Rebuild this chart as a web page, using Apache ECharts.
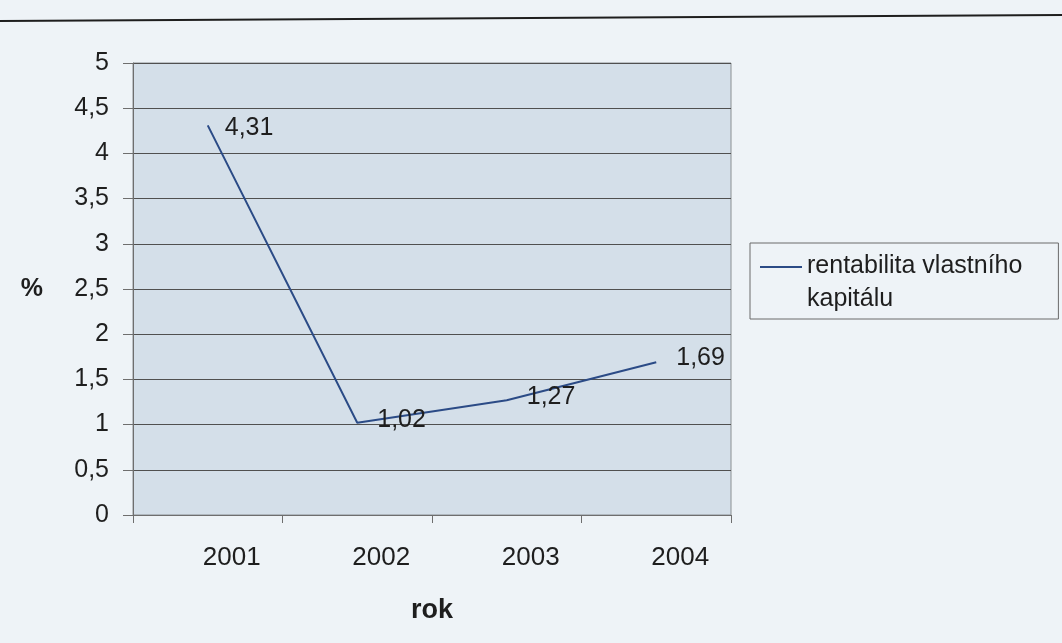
<!DOCTYPE html>
<html>
<head>
<meta charset="utf-8">
<script src="https://cdn.jsdelivr.net/npm/echarts@6/dist/echarts.min.js"></script>
<style>
    html, body { margin: 0; padding: 0; background: #eef3f7; }
    #chart { width: 1062px; height: 643px; }
</style>
</head>
<body>
<div id="chart"></div>
<script>
// data
const years = ['2001', '2002', '2003', '2004']
const roe = [4.31, 1.02, 1.27, 1.69]
const seriesName = 'rentabilita vlastního\nkapitálu'

const comma = v => String(v).replace('.', ',')

// label nudges per point (label sits right of the point)
const labelNudge = [[-3, 3], [0, -3], [0, -3], [0, -4]]

const chart = echarts.init(document.getElementById('chart'))

const option = {
    backgroundColor: '#eef3f7',
    textStyle: { fontFamily: '"Liberation Sans", Arial, sans-serif', color: '#222' },
    grid: {
        left: 133, right: 331, top: 63, bottom: 128,
        show: true,
        backgroundColor: '#d4dfe9',
        borderColor: '#8a8f92',
        borderWidth: 1
    },
    legend: {
        show: true,
        data: [seriesName],
        orient: 'vertical',
        left: 750,
        top: 243,
        padding: [7, 36, 3, 10],
        backgroundColor: 'transparent',
        borderColor: '#6a6a6a',
        borderWidth: 1,
        itemWidth: 42,
        itemHeight: 34,
        // line drawn at the top of the icon box so it sits beside the first text line
        icon: 'path://M0,0L42,0L42,2L0,2Z M0,34L0.01,34L0.01,34.01Z',
        textStyle: { fontSize: 25, lineHeight: 33, color: '#1e1e1e' }
    },
    xAxis: {
        type: 'category',
        data: years,
        boundaryGap: true,
        name: 'rok',
        nameLocation: 'middle',
        nameGap: 82,
        nameTextStyle: { fontSize: 27, fontWeight: 'bold', color: '#1e1e1e' },
        axisLine: { lineStyle: { color: '#6e6e6e', width: 1 } },
        axisTick: { show: true, alignWithLabel: false, length: 8, lineStyle: { color: '#6e6e6e' } },
        axisLabel: { fontSize: 26, color: '#1e1e1e', margin: 30, padding: [0, 0, 0, 48] }
    },
    yAxis: {
        type: 'value',
        min: 0,
        max: 5,
        interval: 0.5,
        name: '%',
        nameLocation: 'middle',
        nameRotate: 0,
        nameGap: 90,
        nameTextStyle: { fontSize: 25, fontWeight: 'bold', color: '#1e1e1e', padding: [0, 0, 10, 0] },
        axisLine: { show: true, lineStyle: { color: '#6e6e6e', width: 1 } },
        axisTick: { show: true, inside: false, length: 10, lineStyle: { color: '#6e6e6e' } },
        axisLabel: { fontSize: 25, color: '#1e1e1e', margin: 24, formatter: v => comma(v) },
        splitLine: { show: true, lineStyle: { color: '#505050', width: 1 } }
    },
    graphic: [{
        type: 'line',
        shape: { x1: 0, y1: 21, x2: 1062, y2: 15 },
        style: { stroke: '#1e1e1e', lineWidth: 2 }
    }],
    series: [{
        name: seriesName,
        type: 'line',
        data: roe.map((v, i) => ({
            value: v,
            label: { offset: labelNudge[i] }
        })),
        symbol: 'circle',
        symbolSize: 0,
        showSymbol: true,
        color: '#2b4b86',
        lineStyle: { color: '#2b4b86', width: 2 },
        label: {
            show: true,
            position: 'right',
            distance: 20,
            fontSize: 25,
            color: '#1e1e1e',
            formatter: p => comma(p.value)
        },
        animation: false
    }]
}

chart.setOption(option)
</script>
</body>
</html>
